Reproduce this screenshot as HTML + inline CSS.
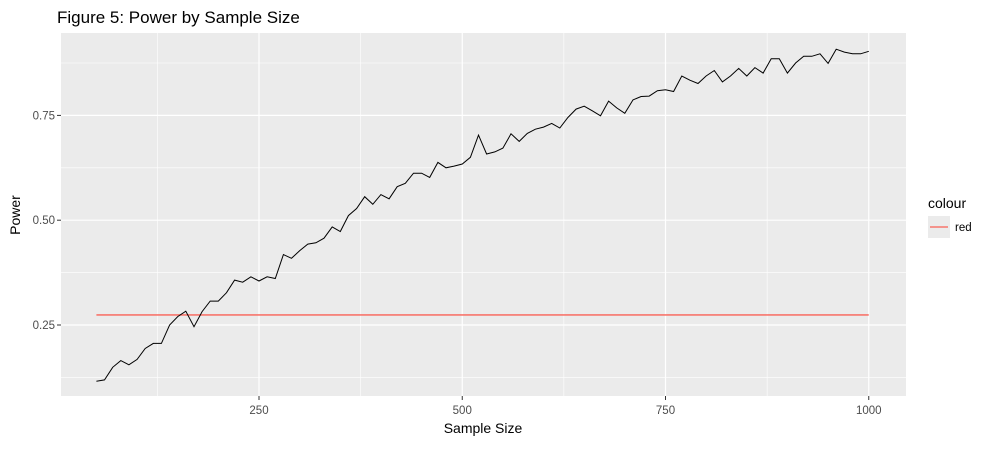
<!DOCTYPE html>
<html><head><meta charset="utf-8"><style>
body{margin:0;background:#fff;font-family:"Liberation Sans",Arial,sans-serif}
svg text{font-family:"Liberation Sans",Arial,sans-serif}
</style></head><body>
<svg id="chart" width="988" height="444" xmlns="http://www.w3.org/2000/svg">
<rect width="988" height="444" fill="#fff"/>
<text x="57" y="23" font-size="17" fill="#000">Figure 5: Power by Sample Size</text>
<rect x="61" y="33" width="845" height="363" fill="#ebebeb"/>
<g id="grid"></g>
<g id="ticks"></g>
<g id="series"></g>
<text x="483" y="433" font-size="14" text-anchor="middle" fill="#000">Sample Size</text>
<text transform="translate(20,215) rotate(-90)" font-size="14" text-anchor="middle" fill="#000">Power</text>
<g>
<text x="928" y="208" font-size="14" fill="#000">colour</text>
<rect x="928" y="216" width="22" height="22" fill="#ebebeb"/>
<line x1="930" y1="227" x2="948" y2="227" stroke="#f8766d" stroke-width="1.6"/>
<text x="955" y="231" font-size="11.5" fill="#000">red</text>
</g>
</svg>
<script>
const sampleSizes=[];for(let n=50;n<=1000;n+=10)sampleSizes.push(n);
const powerValues=[0.116,0.119,0.149,0.165,0.155,0.168,0.194,0.206,0.206,0.25,0.270,0.283,0.246,0.282,0.307,0.307,0.327,0.357,0.352,0.365,0.355,0.365,0.361,0.418,0.409,0.427,0.443,0.446,0.457,0.484,0.473,0.511,0.528,0.556,0.538,0.561,0.551,0.580,0.588,0.612,0.612,0.602,0.638,0.625,0.629,0.634,0.650,0.703,0.658,0.663,0.672,0.706,0.688,0.707,0.717,0.722,0.731,0.720,0.745,0.765,0.772,0.761,0.749,0.784,0.768,0.755,0.787,0.795,0.796,0.809,0.811,0.807,0.844,0.834,0.826,0.844,0.857,0.830,0.844,0.862,0.844,0.864,0.851,0.885,0.885,0.851,0.875,0.891,0.891,0.897,0.874,0.908,0.901,0.897,0.897,0.903];
const refLevel=[0.274];
const xTicks=[250,500,750,1000];
const xMinor=[125,375,625,875];
const yTicks=[0.25,0.50,0.75];
const yTickLabels=["0.25","0.50","0.75"];
const yMinor=[0.125,0.375,0.625,0.875];
const X=v=>259+(v-250)*0.8130;
const Y=v=>325-(v-0.25)*419.2;
const NS="http://www.w3.org/2000/svg";
function mk(tag,attrs,parent){const e=document.createElementNS(NS,tag);for(const k in attrs)e.setAttribute(k,attrs[k]);parent.appendChild(e);return e;}
const grid=document.getElementById('grid'),ticks=document.getElementById('ticks'),series=document.getElementById('series');
yMinor.forEach(v=>{const l=mk('line',{x1:61,x2:906,y1:Y(v),y2:Y(v),stroke:'#fff','stroke-width':0.6},grid);

});
xMinor.forEach(v=>{const l=mk('line',{x1:X(v),x2:X(v),y1:33,y2:396,stroke:'#fff','stroke-width':0.6},grid);

});
yTicks.forEach((v,i)=>{const l=mk('line',{x1:61,x2:906,y1:Y(v),y2:Y(v),stroke:'#fff','stroke-width':1.2},grid);


const t=mk('line',{x1:57,x2:61,y1:Y(v),y2:Y(v),stroke:'#333','stroke-width':1},ticks);


const tx=mk('text',{x:55,y:Y(v)+4,'font-size':11.5,'text-anchor':'end',fill:'#4d4d4d'},ticks);tx.textContent=yTickLabels[i];

});
xTicks.forEach(v=>{const l=mk('line',{x1:X(v),x2:X(v),y1:33,y2:396,stroke:'#fff','stroke-width':1.2},grid);


const t=mk('line',{x1:X(v),x2:X(v),y1:396,y2:400,stroke:'#333','stroke-width':1},ticks);


const tx=mk('text',{x:X(v),y:414,'font-size':11.5,'text-anchor':'middle',fill:'#4d4d4d'},ticks);tx.textContent=String(v);

});
const ref=mk('line',{x1:X(sampleSizes[0]),x2:X(sampleSizes[sampleSizes.length-1]),y1:Y(refLevel[0]),y2:Y(refLevel[0]),stroke:'#f8766d','stroke-width':1.6},series);


const pts=sampleSizes.map((n,i)=>X(n).toFixed(1)+','+Y(powerValues[i]).toFixed(1)).join(' ');
const pl=mk('polyline',{points:pts,fill:'none',stroke:'#000','stroke-width':1},series);


</script>
</body></html>
